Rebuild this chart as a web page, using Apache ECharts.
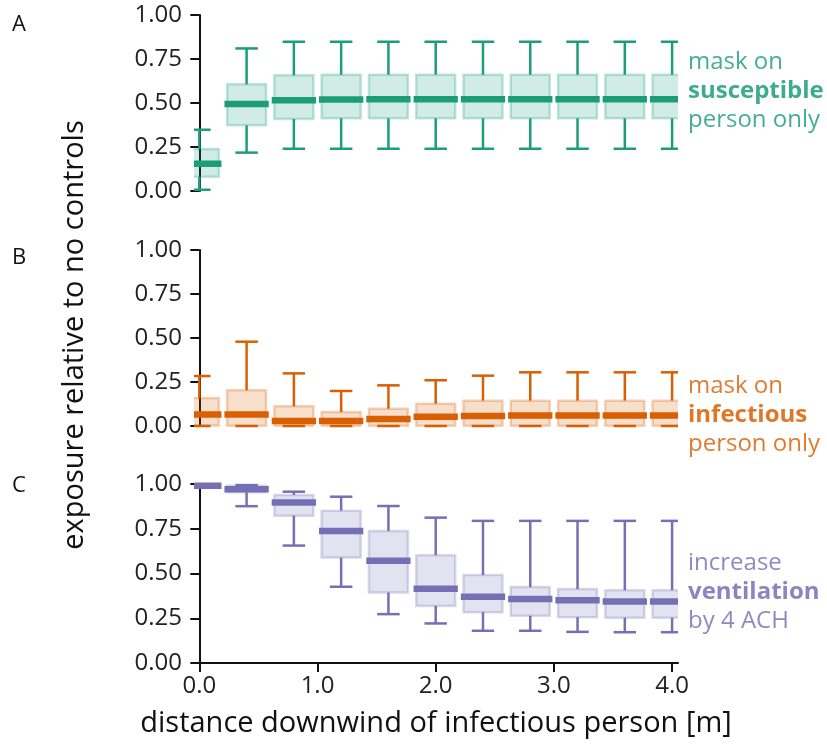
<!DOCTYPE html>
<html>
<head>
<meta charset="utf-8">
<script src="https://cdn.jsdelivr.net/npm/echarts@6/dist/echarts.min.js"></script>
<style>html,body{margin:0;padding:0;background:#fff;}#chart{width:827px;height:754px;}</style>
</head>
<body>
<div id="chart"></div>
<script>
// distances downwind [m]
const distances = [0.0, 0.4, 0.8, 1.2, 1.6, 2.0, 2.4, 2.8, 3.2, 3.6, 4.0];
// each row: [lower whisker, q1, median, q3, upper whisker]
const maskSusceptible = [
  [0.007, 0.081, 0.155, 0.239, 0.348],
  [0.218, 0.373, 0.494, 0.606, 0.810],
  [0.240, 0.409, 0.515, 0.657, 0.848],
  [0.240, 0.413, 0.520, 0.661, 0.848],
  [0.240, 0.413, 0.521, 0.661, 0.848],
  [0.240, 0.413, 0.521, 0.661, 0.848],
  [0.240, 0.413, 0.521, 0.661, 0.848],
  [0.240, 0.413, 0.521, 0.661, 0.848],
  [0.240, 0.413, 0.521, 0.661, 0.848],
  [0.240, 0.413, 0.521, 0.661, 0.848],
  [0.240, 0.413, 0.521, 0.661, 0.848]
];
const maskInfectious = [
  [0.0, 0.003, 0.066, 0.159, 0.284],
  [0.0, 0.002, 0.066, 0.203, 0.479],
  [0.0, 0.002, 0.028, 0.112, 0.299],
  [0.0, 0.002, 0.028, 0.080, 0.199],
  [0.0, 0.002, 0.040, 0.098, 0.231],
  [0.0, 0.002, 0.053, 0.127, 0.260],
  [0.0, 0.002, 0.057, 0.144, 0.286],
  [0.0, 0.002, 0.060, 0.144, 0.305],
  [0.0, 0.002, 0.060, 0.144, 0.305],
  [0.0, 0.002, 0.060, 0.144, 0.305],
  [0.0, 0.002, 0.060, 0.144, 0.305]
];
const ventilation = [
  [0.984, 0.987, 0.990, 0.993, 0.996],
  [0.876, 0.954, 0.970, 0.990, 0.994],
  [0.656, 0.823, 0.896, 0.939, 0.957],
  [0.426, 0.589, 0.738, 0.851, 0.929],
  [0.273, 0.394, 0.571, 0.738, 0.877],
  [0.221, 0.319, 0.415, 0.602, 0.812],
  [0.180, 0.284, 0.370, 0.491, 0.794],
  [0.180, 0.264, 0.357, 0.424, 0.794],
  [0.174, 0.256, 0.351, 0.413, 0.794],
  [0.172, 0.253, 0.344, 0.407, 0.794],
  [0.172, 0.253, 0.344, 0.407, 0.794]
];
const yTicks = [0, 0.25, 0.5, 0.75, 1.0];
const xTicks = [0, 1, 2, 3, 4];
const panelLabels = ['A', 'B', 'C'];
const annotations = [
  ['mask on', 'susceptible', 'person only'],
  ['mask on', 'infectious', 'person only'],
  ['increase', 'ventilation', 'by 4 ACH']
];
const colors = ['#1b9e77', '#d95f02', '#7570b3'];
const rgb = [[27,158,119],[217,95,2],[117,112,179]];

const FONT = '"Open Sans"';
const chart = echarts.init(document.getElementById('chart'), null, {renderer: 'canvas'});

const grids = [
  {left: 194, top: 15, width: 484, height: 176},
  {left: 194, top: 250, width: 484, height: 176},
  {left: 194, top: 484, width: 484, height: 179}
];

function makeRender(ci) {
  const c = colors[ci], r = rgb[ci];
  const fill = `rgba(${r[0]},${r[1]},${r[2]},0.2)`;
  const edge = `rgba(${r[0]},${r[1]},${r[2]},0.27)`;
  return function (params, api) {
    const x = api.value(0);
    const lo = api.value(1), q1 = api.value(2), med = api.value(3), q3 = api.value(4), hi = api.value(5);
    const pLo = api.coord([x, lo]), pQ1 = api.coord([x, q1]), pMed = api.coord([x, med]);
    const pQ3 = api.coord([x, q3]), pHi = api.coord([x, hi]);
    const bw = api.size([0.33, 0])[0];
    const mw = api.size([0.375, 0])[0];
    const cw = api.size([0.19, 0])[0];
    const cx = pMed[0];
    const cs = params.coordSys;
    const clipRect = {x: cs.x, y: cs.y - 10, width: cs.width, height: cs.height + 20};
    const children = [
      {type: 'line', shape: {x1: cx, y1: pQ3[1], x2: cx, y2: pHi[1]}, style: {stroke: c, lineWidth: 2.5}},
      {type: 'line', shape: {x1: cx, y1: pQ1[1], x2: cx, y2: pLo[1]}, style: {stroke: c, lineWidth: 2.5}},
      {type: 'line', shape: {x1: cx - cw/2, y1: pHi[1], x2: cx + cw/2, y2: pHi[1]}, style: {stroke: c, lineWidth: 2.5}},
      {type: 'line', shape: {x1: cx - cw/2, y1: pLo[1], x2: cx + cw/2, y2: pLo[1]}, style: {stroke: c, lineWidth: 2.5}},
      {type: 'rect', shape: {x: cx - bw/2, y: pQ3[1], width: bw, height: pQ1[1] - pQ3[1]}, style: {fill: fill, stroke: edge, lineWidth: 2.5}},
      {type: 'line', shape: {x1: cx - mw/2, y1: pMed[1], x2: cx + mw/2, y2: pMed[1]}, style: {stroke: c, lineWidth: 6.5}}
    ];
    return {type: 'group', children: children, clipPath: {type: 'rect', shape: clipRect}};
  };
}

const datasets = [maskSusceptible, maskInfectious, ventilation];
const xAxes = [], yAxes = [], series = [], graphics = [];
for (let i = 0; i < 3; i++) {
  const isBottom = i === 2;
  xAxes.push({
    type: 'value', gridIndex: i, min: -0.045, max: 4.05,
    show: true,
    axisLine: {show: isBottom, onZero: false, lineStyle: {color: '#111', width: 2}},
    axisTick: {show: isBottom, length: 9, lineStyle: {color: '#111', width: 2}, customValues: xTicks},
    axisLabel: {show: isBottom, customValues: xTicks, formatter: v => v.toFixed(1), fontFamily: FONT, fontSize: 24, color: '#222', margin: 11},
    splitLine: {show: false},
    name: isBottom ? 'distance downwind of infectious person [m]' : '',
    nameLocation: 'middle', nameGap: 46,
    nameTextStyle: {fontFamily: FONT, fontSize: 29, color: '#111'}
  });
  yAxes.push({
    type: 'value', gridIndex: i, min: 0, max: 1, interval: 0.25,
    axisLine: {show: true, lineStyle: {color: '#111', width: 2}},
    axisTick: {show: true, length: 9, lineStyle: {color: '#111', width: 2}},
    axisLabel: {fontFamily: FONT, fontSize: 24, color: '#222', margin: 12, formatter: v => v.toFixed(2)},
    splitLine: {show: false}
  });
  const data = distances.map((d, k) => [d].concat(datasets[i][k]));
  series.push({
    type: 'custom', xAxisIndex: i, yAxisIndex: i,
    renderItem: makeRender(i), data: data, clip: false, silent: true, z: 2
  });
  graphics.push({
    type: 'text', left: 12, top: [14, 247, 475][i],
    style: {text: panelLabels[i], fontFamily: FONT, fontSize: 22, fill: '#111'}
  });
  const ann = annotations[i];
  const midY = [91, 415, 592][i];
  graphics.push({
    type: 'text', x: 688, y: midY,
    style: {
      text: '{a|' + ann[0] + '}\n{b|' + ann[1] + '}\n{a|' + ann[2] + '}',
      verticalAlign: 'middle', align: 'left',
      rich: {
        a: {fontFamily: FONT, fontSize: 24, fill: colors[i], opacity: 0.82, lineHeight: 29, fontWeight: 'normal'},
        b: {fontFamily: FONT, fontSize: 24, fill: colors[i], lineHeight: 29, fontWeight: 'bold'}
      },
      fill: colors[i], opacity: 0.85
    }
  });
}
graphics.push({
  type: 'text', x: 75, y: 335, rotation: Math.PI / 2,
  style: {text: 'exposure relative to no controls', fontFamily: FONT, fontSize: 29, fill: '#111', align: 'center', verticalAlign: 'middle'}
});

chart.setOption({
  animation: false,
  backgroundColor: '#fff',
  grid: grids,
  xAxis: xAxes,
  yAxis: yAxes,
  series: series,
  graphic: graphics
});
</script>
</body>
</html>
